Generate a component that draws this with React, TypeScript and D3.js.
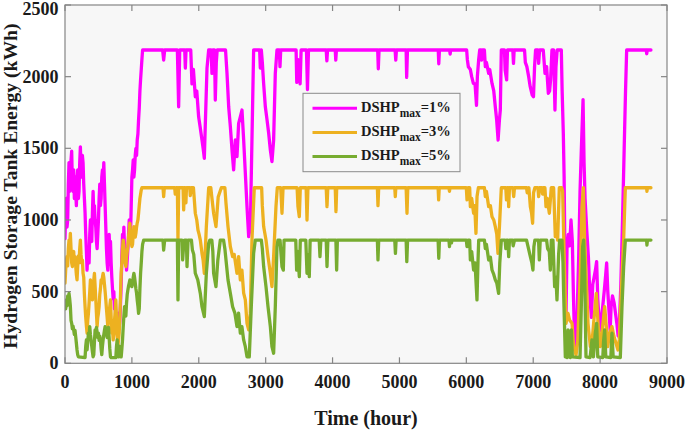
import React from "react";
import * as d3 from "d3";

type Pt = [number, number];

const xTickValues = [0, 1000, 2000, 3000, 4000, 5000, 6000, 7000, 8000, 9000];
const yTickValues = [0, 500, 1000, 1500, 2000, 2500];
const seriesNames = ["DSHP_max=1%", "DSHP_max=3%", "DSHP_max=5%"];
const legendSuffix = ["=1%", "=3%", "=5%"];

const dshp1: Pt[] = [
  [0,870],[10,1050],[20,1150],[30,950],[40,1000],[50,1250],[60,1400],[70,1200],[80,1250],[90,1420],[100,1480],[110,1250],[120,1200],[130,1350],[140,1150],[150,1300],[160,1200],[170,1100],[180,1280],[190,1350],[200,1150],[210,1200],[220,1400],[230,1510],[240,1350],[250,1300],[260,1450],[270,1400],[280,1250],[290,1150],[300,1050],[310,900],[320,780],[330,650],[340,780],[350,800],[360,700],[370,900],[380,1000],[390,880],[400,850],[410,1050],[420,1200],[430,1050],[440,1100],[450,1000],[460,950],[470,850],[480,800],[490,900],[500,1000],[510,1150],[520,1250],[530,1100],[540,1150],[550,1300],[560,1350],[570,1250],[580,1400],[590,1250],[600,1100],[610,950],[620,800],[630,700],[640,650],[650,820],[660,900],[670,780],[680,850],[690,700],[700,600],[710,520],[720,450],[730,500],[740,380],[750,420],[760,300],[770,340],[780,210],[790,280],[800,350],[810,250],[820,300],[830,420],[840,550],[850,750],[860,900],[870,800],[880,950],[890,800],[900,700],[910,760],[920,650],[930,720],[940,800],[950,900],[960,1000],[970,850],[980,900],[990,1100],[1000,1300],[1010,1350],[1020,1420],[1030,1300],[1040,1350],[1050,1450],[1060,1500],[1070,1450],[1080,1560],[1090,1600],[1100,1700],[1110,1780],[1120,1900],[1130,1980],[1140,2050],[1150,2120],[1160,2186],
  [1460,2186],[1475,2116],[1490,2186],
  [1680,2186],[1699,1790],[1715,2186],[1790,2186],[1799,2060],[1810,2186],[1880,2186],[1898,1950],[1920,2050],[1948,1860],[1970,1900],[1998,1720],[2020,1650],[2048,1558],[2065,1500],[2083,1430],[2098,1674],[2123,2060],[2148,2186],[2185,2186],[2197,2023],[2210,2186],[2235,2186],[2247,1837],[2262,2100],[2275,2186],[2400,2186],[2422,2023],[2447,1790],[2472,1651],[2497,1488],[2521,1349],[2546,1558],[2571,1442],[2596,1674],[2621,1720],[2646,1767],[2671,1558],[2696,1326],[2721,1093],[2746,884],[2771,954],[2795,1558],[2820,2186],
  [2910,2186],[2920,2060],[2935,2186],[2950,2100],[2970,1950],[2995,1790],[3020,1700],[3045,1605],[3070,1488],[3094,1407],[3119,1558],[3144,2023],[3169,2186],
  [3205,2186],[3214,2070],[3225,2186],[3455,2186],[3465,1960],[3480,2120],[3503,2023],[3515,1950],[3530,2186],[3610,2186],[3625,1910],[3640,2186],[3905,2186],[3915,2110],[3925,2186],[4040,2186],[4048,2115],[4058,2186],[4675,2186],[4684,2055],[4695,2186],[4935,2186],[4945,2115],[4955,2186],[5100,2186],[5108,1995],[5120,2186],[5580,2186],[5588,2090],[5598,2186],[5750,2186],[5758,2158],[5766,2186],
  [6005,2186],[6015,2120],[6030,2069],[6060,2050],[6080,2000],[6105,1953],[6130,1950],[6152,1800],[6165,2000],[6184,2116],[6200,2186],[6220,2186],[6229,2116],[6240,2186],[6270,2186],[6284,2070],[6300,2100],[6334,2023],[6350,2050],[6384,1953],[6410,1900],[6433,1790],[6453,1700],[6475,1558],[6495,1700],[6508,1767],[6523,2186],
  [6570,2186],[6580,2045],[6603,1977],[6615,2186],[6695,2186],[6705,2093],[6715,2186],[6870,2186],[6882,2100],[6905,2070],[6932,2000],[6955,1930],[6970,1900],[6985,1872],[7004,1860],[7020,2069],[7035,2186],[7070,2186],[7081,2093],[7095,2186],[7150,2186],[7176,2023],[7200,2070],[7226,1884],[7245,1900],[7260,1980],[7280,2186],[7305,2186],[7325,1767],[7340,2069],[7358,2186],[7420,2186],[7432,1907],[7450,1600],[7462,1300],[7475,700],[7490,320],[7505,800],[7525,900],[7545,820],[7565,1000],[7585,850],[7600,500],[7620,120],[7640,90],[7660,400],[7680,750],[7700,1200],[7720,1500],[7745,1840],[7760,1400],[7775,1150],[7800,930],[7825,740],[7850,440],[7870,320],[7890,550],[7910,600],[7930,650],[7948,710],[7965,450],[7985,300],[8000,230],[8020,320],[8040,400],[8063,510],[8080,600],[8098,700],[8115,500],[8135,350],[8150,230],[8165,400],[8185,470],[8210,420],[8230,350],[8250,280],[8270,190],[8290,300],[8310,550],[8335,1000],[8360,1500],[8380,1900],[8397,2186],[8690,2186],[8697,2160],[8705,2186],[8760,2186]
];

const dshp3: Pt[] = [
  [0,560],[10,650],[20,720],[30,744],[40,680],[50,800],[60,860],[70,820],[80,907],[90,800],[100,700],[110,675],[120,760],[130,780],[140,700],[150,744],[160,680],[170,620],[180,582],[190,680],[200,750],[210,700],[220,800],[230,860],[240,760],[250,700],[260,720],[270,628],[280,600],[290,480],[300,395],[310,320],[320,260],[330,210],[340,300],[350,349],[360,420],[370,500],[380,582],[390,520],[400,480],[410,442],[420,520],[430,580],[440,628],[450,540],[460,450],[470,350],[480,256],[490,320],[500,350],[510,395],[520,480],[530,520],[540,582],[550,560],[560,600],[570,628],[580,600],[590,550],[600,500],[610,442],[620,380],[630,320],[640,256],[650,300],[660,350],[670,400],[680,442],[690,320],[700,210],[710,240],[720,163],[730,200],[740,300],[750,360],[760,442],[770,320],[780,200],[790,116],[800,160],[810,210],[820,320],[830,480],[840,628],[850,700],[860,800],[870,860],[880,820],[890,750],[900,700],[910,675],[920,740],[930,780],[940,814],[950,880],[960,930],[970,977],[980,900],[990,850],[1000,814],[1010,830],[1020,900],[1030,954],[1040,900],[1050,880],[1060,907],[1070,950],[1080,980],[1090,1000],[1100,1047],[1110,1100],[1120,1150],[1130,1180],[1140,1209],[1150,1225],
  [1465,1225],[1475,1163],[1485,1225],[1640,1225],[1648,1180],[1656,1225],[1680,1225],[1689,860],[1700,1225],[1765,1225],[1774,1070],[1785,1225],[1800,1225],[1808,1120],[1816,1225],[1865,1225],[1873,1170],[1885,1225],[1920,1225],[1948,1047],[1970,1000],[1988,930],[2005,900],[2023,860],[2048,767],[2065,720],[2083,628],[2113,954],[2148,1225],[2180,1225],[2190,1180],[2222,1047],[2240,1000],[2257,954],[2290,1160],[2337,1225],[2390,1225],[2407,1116],[2437,954],[2472,814],[2506,744],[2530,760],[2571,628],[2596,744],[2621,582],[2645,650],[2671,489],[2696,442],[2721,279],[2746,233],[2770,350],[2795,860],[2830,1225],
  [2940,1225],[2950,1100],[2970,954],[3005,860],[3035,744],[3070,628],[3094,535],[3119,744],[3154,1093],[3174,1225],[3225,1225],[3244,1047],[3260,1225],[3470,1225],[3483,1093],[3503,1023],[3518,1225],[3605,1225],[3618,1000],[3632,1225],[3905,1225],[3917,1093],[3929,1225],[4040,1225],[4051,1058],[4062,1225],[4670,1225],[4679,1100],[4690,1225],[4930,1225],[4938,1163],[4946,1225],[5100,1225],[5113,1047],[5125,1225],[5578,1225],[5586,1140],[5595,1225],[5740,1225],[5748,1200],[5756,1225],
  [6000,1225],[6010,1140],[6030,1225],[6050,1225],[6060,1093],[6080,1150],[6109,1047],[6125,1100],[6144,907],[6160,1163],[6180,1225],[6270,1225],[6284,1163],[6300,1200],[6334,1093],[6360,1100],[6384,1023],[6410,1000],[6433,954],[6455,900],[6473,767],[6495,954],[6523,1225],[6590,1225],[6600,1140],[6612,1225],[6625,1225],[6633,1093],[6645,1225],[6695,1225],[6708,1163],[6720,1225],[6900,1225],[6910,1190],[6935,1225],[6957,1093],[6975,1050],[6991,977],[7005,1190],[7025,1225],[7070,1225],[7081,1163],[7095,1225],[7130,1225],[7140,1180],[7155,1225],[7175,1225],[7191,1093],[7210,1150],[7241,1047],[7258,1150],[7270,1225],[7305,1225],[7330,884],[7350,950],[7365,860],[7390,1225],[7425,1225],[7440,1200],[7455,900],[7470,628],[7490,279],[7520,349],[7545,300],[7580,279],[7604,116],[7640,58],[7665,150],[7704,628],[7729,1093],[7749,1225],[7769,860],[7789,628],[7819,279],[7854,116],[7878,140],[7903,279],[7943,488],[7978,210],[8003,116],[8038,256],[8068,395],[8093,256],[8113,116],[8143,210],[8177,256],[8205,190],[8237,140],[8267,93],[8287,163],[8317,511],[8352,860],[8377,1225],[8695,1225],[8700,1200],[8708,1225],[8760,1225]
];

const dshp5: Pt[] = [
  [0,420],[10,380],[20,442],[30,400],[40,470],[50,430],[60,488],[70,450],[80,400],[90,300],[100,279],[110,240],[120,260],[130,233],[140,200],[150,230],[160,186],[170,140],[180,93],[190,60],[200,45],[300,40],[310,120],[320,163],[330,93],[340,150],[350,210],[360,180],[370,256],[380,200],[390,163],[400,120],[410,80],[420,45],[430,60],[440,150],[450,233],[460,200],[470,250],[480,220],[490,180],[500,210],[510,160],[520,190],[530,163],[540,100],[550,60],[560,120],[570,163],[580,200],[590,230],[600,256],[610,220],[620,210],[630,180],[640,230],[650,250],[660,180],[670,100],[680,45],[690,40],[760,40],[770,120],[780,163],[790,60],[800,45],[810,120],[820,90],[830,45],[840,45],[850,100],[860,163],[870,250],[880,330],[890,395],[900,360],[910,330],[920,420],[930,480],[940,511],[950,540],[960,560],[970,582],[980,560],[990,540],[1000,535],[1010,560],[1020,600],[1030,628],[1040,600],[1050,560],[1060,520],[1070,488],[1080,440],[1090,400],[1100,349],[1110,380],[1120,520],[1130,628],[1140,700],[1150,780],[1160,830],[1176,860],
  [1465,860],[1475,790],[1490,860],[1680,860],[1689,442],[1700,860],[1750,860],[1759,721],[1775,830],[1790,860],[1815,860],[1824,675],[1840,860],[1890,860],[1905,790],[1925,760],[1948,628],[1985,582],[2023,488],[2048,395],[2083,326],[2113,628],[2148,837],[2165,860],[2195,860],[2210,780],[2222,628],[2257,535],[2285,721],[2322,860],[2370,860],[2390,800],[2407,721],[2437,582],[2472,488],[2506,395],[2540,350],[2571,256],[2595,350],[2621,210],[2645,256],[2671,163],[2696,116],[2721,45],[2755,45],[2785,395],[2820,767],[2845,860],
  [2935,860],[2950,800],[2970,675],[3005,535],[3035,395],[3070,256],[3094,116],[3119,70],[3144,395],[3169,814],[3184,860],[3215,860],[3230,760],[3244,675],[3264,650],[3275,860],[3450,860],[3463,650],[3478,780],[3503,605],[3518,860],[3600,860],[3618,628],[3630,760],[3652,605],[3665,860],[3800,860],[3812,744],[3825,860],[3905,860],[3917,675],[3930,860],[4050,860],[4061,651],[4072,860],[4670,860],[4679,721],[4690,860],[4930,860],[4940,767],[4950,860],[5100,860],[5110,709],[5122,860],[5578,860],[5588,733],[5598,860],[5740,860],[5748,814],[5756,860],[5770,860],[5778,840],[5786,860],
  [6000,860],[6010,814],[6030,860],[6050,860],[6060,721],[6080,780],[6109,651],[6130,700],[6159,442],[6175,720],[6185,860],[6270,860],[6284,800],[6300,830],[6334,721],[6360,740],[6384,651],[6410,620],[6433,582],[6455,560],[6483,488],[6500,700],[6523,860],[6580,860],[6590,800],[6603,860],[6620,860],[6633,744],[6645,860],[6690,860],[6700,820],[6720,860],[6900,860],[6920,820],[6957,744],[6980,700],[6996,651],[7010,814],[7025,860],[7080,860],[7091,721],[7105,860],[7200,860],[7215,800],[7240,780],[7256,651],[7270,860],[7295,860],[7320,535],[7340,600],[7355,442],[7380,760],[7395,860],[7430,860],[7445,700],[7455,488],[7480,45],[7505,40],[7520,233],[7535,45],[7555,40],[7570,233],[7585,45],[7700,40],[7719,395],[7739,814],[7754,860],[7769,628],[7789,45],[7850,40],[7878,163],[7900,45],[7928,210],[7948,279],[7965,45],[8040,40],[8053,163],[8068,233],[8085,45],[8160,40],[8177,210],[8195,45],[8302,40],[8327,395],[8352,675],[8377,860],[8695,860],[8700,825],[8708,860],[8760,860]
];

const colors = ["#ff00ff", "#edb120", "#77ac30"];

const W = 685;
const H = 433;
const left = 65;
const right = 667;
const top = 5;
const bottom = 363.3;

export default function App() {
  const x = d3.scaleLinear().domain([0, 9000]).range([left, right]);
  const y = d3.scaleLinear().domain([0, 2500]).range([bottom, top]);
  const line = d3
    .line<Pt>()
    .x((d) => x(d[0]))
    .y((d) => y(d[1]));
  const series = [dshp1, dshp3, dshp5];
  const font = "'Liberation Serif', 'Times New Roman', serif";
  const axisColor = "#858585";
  const tickLen = 6;

  const legX = 303;
  const legY = 93.3;
  const rowY = [108.3, 132.5, 156.5];

  return (
    <svg
      width={W}
      height={H}
      viewBox={`0 0 ${W} ${H}`}
      style={{ position: "absolute", left: 0, top: 0, background: "#ffffff" }}
      fontFamily={font}
    >
      <defs>
        <clipPath id="plotClip">
          <rect x={left} y={top} width={right - left} height={bottom - top} />
        </clipPath>
      </defs>
      <rect x={left} y={top} width={right - left} height={bottom - top} fill="#f7f7f7" />

      <g clipPath="url(#plotClip)">
        {series.map((s, i) => (
          <path
            key={seriesNames[i]}
            d={line(s) || ""}
            fill="none"
            stroke={colors[i]}
            strokeWidth={3.3}
            strokeLinejoin="round"
            strokeLinecap="round"
          />
        ))}
      </g>

      <rect
        x={left}
        y={top}
        width={right - left}
        height={bottom - top}
        fill="none"
        stroke={axisColor}
        strokeWidth={1.2}
      />
      {xTickValues.map((t) => (
        <g key={"xt" + t}>
          <line x1={x(t)} x2={x(t)} y1={bottom} y2={bottom - tickLen} stroke={axisColor} strokeWidth={1.2} />
          <line x1={x(t)} x2={x(t)} y1={top} y2={top + tickLen} stroke={axisColor} strokeWidth={1.2} />
          <text x={x(t)} y={387.5} textAnchor="middle" fontSize={18} fontWeight="bold" fill="#1a1a1a">
            {t}
          </text>
        </g>
      ))}
      {yTickValues.map((t) => (
        <g key={"yt" + t}>
          <line x1={left} x2={left + tickLen} y1={y(t)} y2={y(t)} stroke={axisColor} strokeWidth={1.2} />
          <line x1={right} x2={right - tickLen} y1={y(t)} y2={y(t)} stroke={axisColor} strokeWidth={1.2} />
          <text x={58.5} y={Math.max(y(t) + 6, 15)} textAnchor="end" fontSize={18} fontWeight="bold" fill="#1a1a1a">
            {t}
          </text>
        </g>
      ))}

      <text
        transform={`translate(17, ${(top + bottom) / 2 + 2}) rotate(-90)`}
        textAnchor="middle"
        fontSize={19.6}
        fontWeight="bold"
        fill="#1a1a1a"
      >
        Hydrogen Storage Tank Energy (kWh)
      </text>
      <text x={(left + right) / 2} y={425} textAnchor="middle" fontSize={20} fontWeight="bold" fill="#1a1a1a">
        Time (hour)
      </text>

      <rect x={legX} y={legY} width={157} height={78.4} fill="#f7f7f7" stroke="#8a8a8a" strokeWidth={1} />
      {rowY.map((ry, i) => (
        <g key={"leg" + i}>
          <line x1={312.5} x2={357} y1={ry} y2={ry} stroke={colors[i]} strokeWidth={3} />
          <text x={361} y={ry + 3.2} fontSize={14.5} fontWeight="bold" fill="#1a1a1a">
            DSHP
            <tspan fontSize={11.5} dy={5.5}>max</tspan>
            <tspan fontSize={14.5} dy={-5.5}>{legendSuffix[i]}</tspan>
          </text>
        </g>
      ))}
    </svg>
  );
}
